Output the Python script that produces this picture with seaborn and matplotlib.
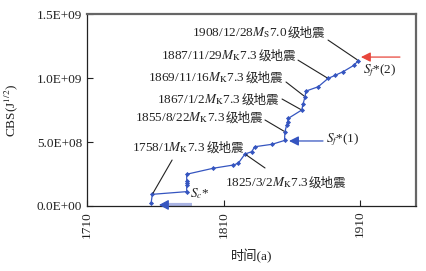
import matplotlib
matplotlib.use("Agg")
import matplotlib.pyplot as plt
import seaborn as sns
import pandas as pd
from matplotlib.ticker import FuncFormatter
from matplotlib.offsetbox import TextArea, HPacker, AnnotationBbox

# ---- data ----
years = [1756.9, 1757.8, 1783.0, 1783.0, 1783.0, 1783.0, 1783.0, 1802.5, 1817.2,
         1820.8, 1825.7, 1830.6, 1832.9, 1845.5, 1854.7, 1855.0, 1856.3, 1857.0,
         1857.5, 1867.3, 1868.4, 1869.7, 1870.4, 1879.4, 1886.6, 1891.6, 1897.7,
         1905.6, 1908.8]
cbs = [0.02e9, 0.091e9, 0.112e9, 0.164e9, 0.182e9, 0.198e9, 0.248e9, 0.295e9, 0.32e9,
       0.334e9, 0.406e9, 0.424e9, 0.463e9, 0.482e9, 0.512e9, 0.58e9, 0.633e9, 0.659e9,
       0.685e9, 0.75e9, 0.80e9, 0.854e9, 0.898e9, 0.932e9, 0.997e9, 1.02e9, 1.05e9,
       1.10e9, 1.137e9]

x_ticks = [1710, 1810, 1910]
x_tick_labels = ["1710", "1810", "1910"]
y_ticks = [0, 0.5e9, 1.0e9, 1.5e9]

# earthquake labels: (date, magnitude type, magnitude)
quake_dates = ["1908/12/28", "1887/11/29", "1869/11/16", "1867/1/2", "1855/8/22",
               "1758/1", "1825/3/2"]
quake_mtype = ["S", "K", "K", "K", "K", "K", "K"]
quake_mag = ["7.0", "7.3", "7.3", "7.3", "7.3", "7.3", "7.3"]
quake_suffix = "级地震"
quake_points = [(1908.8, 1.137e9), (1886.6, 0.997e9), (1869.7, 0.854e9),
                (1867.3, 0.75e9), (1855.0, 0.58e9), (1757.8, 0.091e9),
                (1825.7, 0.406e9)]
leader_starts = [(1886.6, 1.297e9), (1864.6, 1.14e9), (1855.8, 0.969e9),
                 (1852.9, 0.836e9), (1840.4, 0.672e9), (1772.3, 0.359e9),
                 (1840.4, 0.297e9)]
label_anchor = [(1884.4, 1.352e9), (1863.1, 1.172e9), (1853.6, 1.0e9),
                (1850.7, 0.828e9), (1839.0, 0.6875e9), (1784.0, 0.453e9),
                (1855.4, 0.18e9)]
label_align = [(1, 0.5)] * 5 + [(0.5, 0.5), (0.5, 0.5)]

df = pd.DataFrame({"year": years, "cbs": cbs})

# ---- style ----
sns.set_style("ticks")
fam = ["Liberation Serif", "Noto Sans CJK SC"]
plt.rcParams["font.family"] = fam
plt.rcParams["mathtext.fontset"] = "stix"
plt.rcParams["font.size"] = 9.5
FS = 9.5
TXT = "#222222"

fig = plt.figure(figsize=(4.27, 2.71), dpi=100)
ax = fig.add_axes([0.204, 0.240, 0.770, 0.708])

blue = "#3555c0"
sns.lineplot(data=df, x="year", y="cbs", sort=False, ax=ax, color=blue,
             linewidth=0.9, marker="D", markersize=2.6, markeredgewidth=0,
             estimator=None)

ax.set_xlim(1710, 1951)
ax.set_ylim(0, 1.5e9)
ax.set_xticks(x_ticks)
ax.set_xticklabels(x_tick_labels, rotation=90)
ax.set_yticks(y_ticks)
ax.yaxis.set_major_formatter(FuncFormatter(lambda v, p: f"{v:.1E}"))
ax.tick_params(direction="in", length=4, width=0.8, labelsize=FS, colors=TXT)
ax.set_xlabel("时间(a)", fontsize=FS, labelpad=8, color=TXT)
ax.set_ylabel("CBS(J$^{1/2}$)", fontsize=FS, labelpad=12, color=TXT)

for side in ["left", "bottom"]:
    ax.spines[side].set_color("#222222")
    ax.spines[side].set_linewidth(0.9)
for side in ["top", "right"]:
    ax.spines[side].set_color("#666666")
    ax.spines[side].set_linewidth(1.6)


def make_label(date, mtype, mag):
    tp = dict(fontsize=FS, color=TXT, family=fam)
    cjk = dict(fontsize=FS - 0.5, color=TXT, family=["Noto Sans CJK SC"],
               fontweight="light")
    parts = [TextArea(date + "$M_{\\rm %s}$" % mtype + mag,
                      textprops=dict(fontsize=FS, color=TXT)),
             TextArea(quake_suffix, textprops=cjk)]
    return HPacker(children=parts, align="baseline", pad=0, sep=0.5)


for d, mt, mg, pt, ls, la, al in zip(quake_dates, quake_mtype, quake_mag,
                                     quake_points, leader_starts, label_anchor,
                                     label_align):
    ax.annotate("", xy=pt, xytext=ls,
                arrowprops=dict(arrowstyle="-", color="#222222", lw=0.8,
                                shrinkA=0, shrinkB=1))
    ab = AnnotationBbox(make_label(d, mt, mg), la, xycoords="data",
                        box_alignment=al, frameon=False, pad=0)
    ax.add_artist(ab)

# ---- S markers ----
ax.annotate("", xy=(1858.0, 0.508e9), xytext=(1882.9, 0.508e9),
            arrowprops=dict(arrowstyle="-|>,head_length=0.6,head_width=0.3",
                            color=blue, lw=0.9, shrinkA=0, shrinkB=0))
ax.text(1885.1, 0.52e9, "$S_f$*(1)", ha="left", va="center", fontsize=FS, color=TXT)

ax.annotate("", xy=(1910.7, 1.164e9), xytext=(1939.3, 1.164e9),
            arrowprops=dict(arrowstyle="-|>,head_length=0.6,head_width=0.3",
                            color="#e8463c", lw=0.9, shrinkA=0, shrinkB=0))
ax.text(1912.2, 1.055e9, "$S_f$*(2)", ha="left", va="center", fontsize=FS, color=TXT)

ax.plot([1766.0, 1787.0], [0.006e9, 0.006e9], color="#aab4e4", lw=3,
        solid_capstyle="butt")
ax.annotate("", xy=(1762.7, 0.008e9), xytext=(1768.0, 0.008e9),
            arrowprops=dict(arrowstyle="-|>,head_length=0.6,head_width=0.32",
                            color=blue, lw=0.9, shrinkA=0, shrinkB=0))
ax.text(1785.5, 0.1e9, "$S_c$*", ha="left", va="center", fontsize=FS, color=TXT)

fig.savefig("out.png", dpi=100)
